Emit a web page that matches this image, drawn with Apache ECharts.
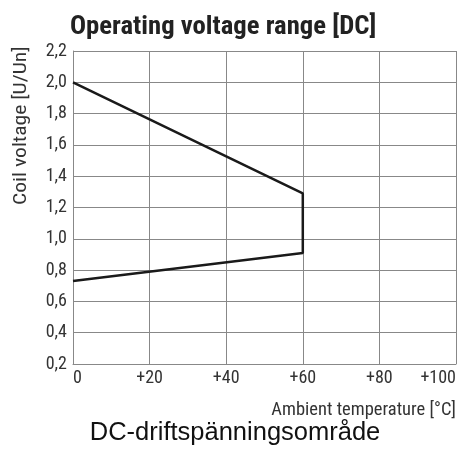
<!DOCTYPE html>
<html>
<head>
<meta charset="utf-8">
<script src="https://cdn.jsdelivr.net/npm/echarts@6/dist/echarts.min.js"></script>
<style>
  html, body { margin: 0; padding: 0; background: #fff; }
  #echarts_main { width: 459px; height: 455px; }
</style>
</head>
<body>
<div id="echarts_main"></div>
<script>
// data
var temps = [0, 60, 60, 0];            // ambient temperature [°C]
var volts = [2.0, 1.29, 0.91, 0.73];   // coil voltage [U/Un]
var xTicks = [0, 20, 40, 60, 80, 100];
var yTicks = [0.2, 0.4, 0.6, 0.8, 1.0, 1.2, 1.4, 1.6, 1.8, 2.0, 2.2];

var narrow = "'Liberation Sans Narrow', 'Arial Narrow', 'Roboto Condensed', sans-serif";

function refreshChart() {
  var myChart = echarts.init(document.getElementById('echarts_main'));
  var pts = temps.map(function (t, i) { return [t, volts[i]]; });
  myChart.setOption({
    animation: false,
    title: {
      text: 'Operating voltage range [DC]',
      left: 65,
      top: 9,
      textStyle: { fontFamily: narrow, fontWeight: 'bold', fontSize: 26.7, color: '#222' }
    },
    grid: { left: 73, right: 3, top: 51, bottom: 91, outerBoundsMode: 'none', containLabel: false },
    xAxis: {
      type: 'value',
      min: xTicks[0],
      max: xTicks[xTicks.length - 1],
      interval: 20,
      axisLine: { lineStyle: { color: '#888', width: 1 } },
      axisTick: { show: false },
      splitLine: { lineStyle: { color: '#888', width: 1 } },
      axisLabel: {
        margin: 5,
        fontFamily: narrow, fontSize: 18, color: '#333',
        alignMinLabel: 'left',
        alignMaxLabel: 'right',
        formatter: function (v) { return v === 0 ? '0' : '+' + v; }
      },
      name: 'Ambient temperature [°C]',
      nameLocation: 'end',
      nameGap: 0,
      nameTextStyle: {
        fontFamily: narrow, fontSize: 18.5, color: '#333',
        align: 'right', verticalAlign: 'top', padding: [37, 0, 0, 0]
      }
    },
    yAxis: {
      type: 'value',
      min: 0.2,
      max: 2.2,
      interval: 0.2,
      axisLine: { show: true, lineStyle: { color: '#888', width: 1 } },
      axisTick: { show: false },
      splitLine: { lineStyle: { color: '#888', width: 1 } },
      axisLabel: {
        margin: 6,
        fontFamily: narrow, fontSize: 18, color: '#333',
        formatter: function (v) { return v.toFixed(1).replace('.', ','); }
      }
    },
    graphic: [
      {
        type: 'text',
        x: 12, y: 205,
        rotation: Math.PI / 2,
        scaleX: 1.2,
        style: {
          text: 'Coil voltage [U/Un]',
          font: '18px ' + narrow,
          fill: '#333',
          align: 'left',
          verticalAlign: 'top'
        }
      },
      {
        type: 'text',
        x: 235, y: 433,
        style: {
          text: 'DC-driftspänningsområde',
          font: '25.5px "Liberation Sans", Arial, sans-serif',
          fill: '#111',
          align: 'center',
          verticalAlign: 'middle'
        }
      }
    ],
    series: [
      {
        type: 'line',
        data: pts,
        symbol: 'none',
        lineStyle: { color: '#1a1a1a', width: 2.5 }
      }
    ]
  });
}
refreshChart();
</script>
</body>
</html>
